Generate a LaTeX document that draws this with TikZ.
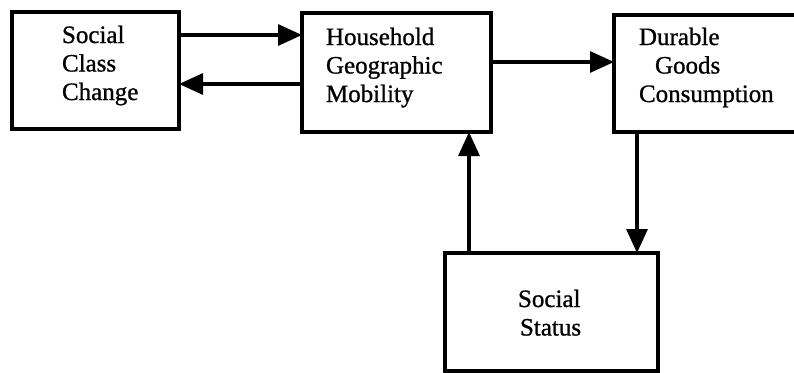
\documentclass[tikz,border=0pt]{standalone}
\usepackage{fontspec}
\setmainfont{Liberation Serif}[FakeBold=0.9]
\usetikzlibrary{arrows.meta}

\begin{document}
\begin{tikzpicture}[x=1pt,y=-1pt,
  box/.style={draw=black,line width=3.8pt,rectangle,inner sep=0pt,outer sep=0pt},
  lbl/.style={anchor=base west,inner sep=0pt,outer sep=0pt,text width=170pt,align=left,
    font=\fontsize{25}{28.5}\selectfont},
  arr/.style={line width=3.2pt,-{Triangle[length=24pt,width=21pt]}}]
  \useasboundingbox (0,0) rectangle (794,372);
  \clip (0,0) rectangle (794,372);
  \fill[white] (0,0) rectangle (794,372);

  % boxes
  \node[box,minimum width=167pt,minimum height=117pt] (cls) at (95.5,70.5) {};
  \node[box,minimum width=189pt,minimum height=119pt] (mob) at (396.5,72.5) {};
  \node[box,minimum width=200pt,minimum height=117pt] (dur) at (714,73.5) {};
  \node[box,minimum width=213pt,minimum height=118pt] (sta) at (551.5,312) {};

  % box texts
  \node[lbl] (clsT) at (62,43) {Social\\Class\\Change};
  \node[lbl] (mobT) at (326,45) {Household\\Geographic\\Mobility};
  \node[lbl] (durT) at (639,45) {Durable\\\hspace*{16pt}Goods\\Consumption};
  \node[lbl] (staT) at (518,307) {Social\\\hspace*{2pt}Status};

  % connectors
  \draw[arr] (cls.east |- 0,35) -- (mob.west |- 0,35);
  \draw[arr] (mob.west |- 0,84) -- (cls.east |- 0,84);
  \draw[arr] (mob.east |- 0,62) -- (dur.west |- 0,62);
  \draw[arr] (sta.north -| 469,0) -- (mob.south -| 469,0);
  \draw[arr] (dur.south -| 637,0) -- (sta.north -| 637,0);
\end{tikzpicture}
\end{document}
